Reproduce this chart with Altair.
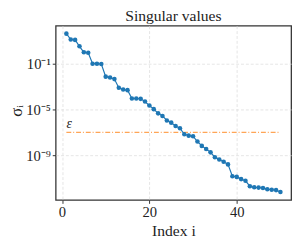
import altair as alt
import pandas as pd

index = list(range(1, 51))
sigma = [4.2e1, 1.3e1, 1.2e1, 3.3, 9.8e-1, 9.1e-1, 1.0e-1, 1.0e-1, 9.3e-2, 7.4e-3,
         6.2e-3, 4.5e-3, 7.8e-4, 5.6e-4, 4.9e-4, 9.1e-5, 9.1e-5, 8.5e-5, 5.0e-5, 2.2e-5,
         1.07e-5, 4.6e-6, 2.75e-6, 1.1e-6, 7.1e-7, 3.6e-7, 2.3e-7, 6.8e-8, 5.2e-8, 4.6e-8,
         1.6e-8, 6.6e-9, 3.5e-9, 1.8e-9, 6.8e-10, 4.3e-10, 2.75e-10, 1.6e-10, 1.5e-11, 1.3e-11,
         8.3e-12, 5.9e-12, 2.0e-12, 1.6e-12, 1.5e-12, 1.4e-12, 1.1e-12, 9.8e-13, 9.1e-13, 6.2e-13]
eps = 1e-7
eps_x = [1, 50]
x_ticks = [0, 20, 40]
y_ticks = [1e-1, 1e-5, 1e-9]

FONT = "Liberation Serif"
BLUE = "#1f77b4"
ORANGE = "#ff7f0e"

df = pd.DataFrame({"i": index, "s": sigma})
df_eps = pd.DataFrame({"i": eps_x, "s": [eps, eps]})
df_lab = pd.DataFrame({"i": [eps_x[0]], "s": [eps], "t": ["ε"]})

xscale = alt.Scale(domain=[-1.45, 52.45], nice=False, zero=False)
yscale = alt.Scale(type="log", domain=[10 ** -12.9, 10 ** 2.31], nice=False)

xaxis = alt.Axis(values=x_ticks, title="Index i", format="d",
                 titlePadding=3, labelPadding=2)
yaxis = alt.Axis(values=y_ticks, title="σᵢ",
                 labelExpr="round(log(datum.value)/LN10) == -1 ? '10⁻¹' : round(log(datum.value)/LN10) == -5 ? '10⁻⁵' : '10⁻⁹'",
                 titleX=-40, titleY=87, titleBaseline="middle", titleAngle=-90,
                 titleFontSize=17, labelPadding=2)

x = alt.X("i:Q", scale=xscale, axis=xaxis)
y = alt.Y("s:Q", scale=yscale, axis=yaxis)

line = alt.Chart(df).mark_line(color=BLUE, strokeWidth=1.2).encode(x=x, y=y)
pts = alt.Chart(df).mark_circle(color=BLUE, size=22, opacity=1).encode(x=x, y=y)
eline = alt.Chart(df_eps).mark_line(color=ORANGE, strokeWidth=1.3, opacity=0.7,
                                    strokeDash=[5, 2, 1, 2]).encode(x=x, y=y)
elab = alt.Chart(df_lab).mark_text(align="left", baseline="alphabetic", dy=-4,
                                   font=FONT, fontSize=14, fontStyle="italic",
                                   color="#222").encode(x=x, y=y, text="t:N")

chart = alt.layer(eline, line, pts, elab).properties(
    width=242, height=179,
    title=alt.TitleParams("Singular values", font=FONT, fontSize=16,
                          fontWeight="normal", color="#222", offset=2),
    autosize=alt.AutoSizeParams(type="none"),
    padding={"left": 49, "top": 15, "right": 5, "bottom": 42},
).configure_view(stroke="#333", strokeWidth=1.3).configure_axis(
    labelFont=FONT, titleFont=FONT, labelFontSize=15, titleFontSize=16,
    titleFontWeight="normal", labelColor="#222", titleColor="#222",
    domain=False, tickColor="#333", tickSize=3.5, tickWidth=1,
    grid=True, gridColor="#dddddd", gridDash=[3, 2], gridWidth=0.8,
)

chart.save("out.html", embed_options={"renderer": "svg", "actions": False})
